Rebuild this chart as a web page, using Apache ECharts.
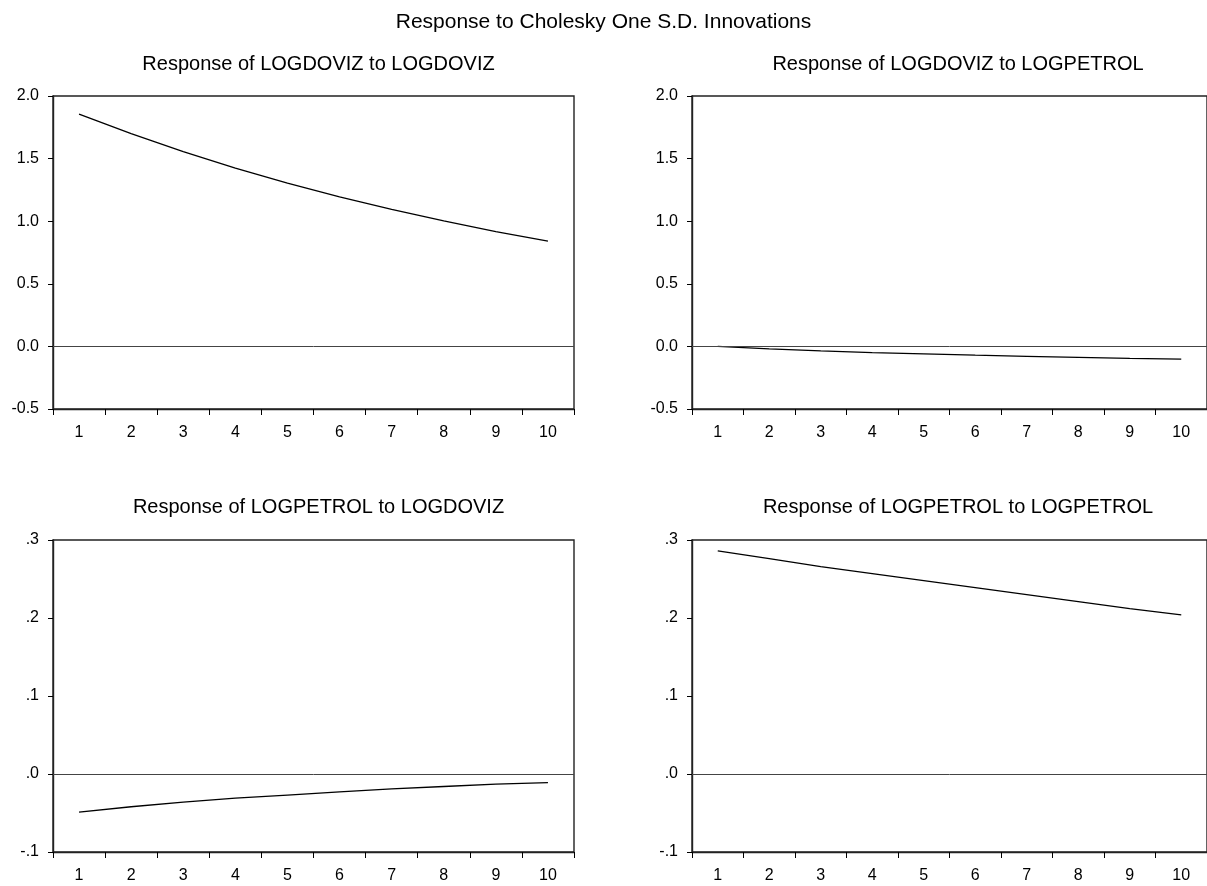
<!DOCTYPE html>
<html>
<head>
<meta charset="utf-8">
<script src="https://cdn.jsdelivr.net/npm/echarts@6/dist/echarts.min.js"></script>
<style>
html,body{margin:0;padding:0;background:#fff;}
#chart{width:1207px;height:886px;}
</style>
</head>
<body>
<div id="chart"></div>
<script>
// ---- data ----
const periods = ['1','2','3','4','5','6','7','8','9','10'];
const doviz_to_doviz   = [1.855, 1.699, 1.556, 1.424, 1.304, 1.194, 1.094, 1.002, 0.917, 0.840];
const doviz_to_petrol  = [0.000, -0.020, -0.035, -0.049, -0.060, -0.070, -0.079, -0.087, -0.095, -0.102];
const petrol_to_doviz  = [-0.049, -0.042, -0.036, -0.031, -0.027, -0.023, -0.019, -0.016, -0.013, -0.011];
const petrol_to_petrol = [0.286, 0.276, 0.266, 0.257, 0.248, 0.239, 0.230, 0.221, 0.212, 0.204];
const topTickLabels    = ['-0.5','0.0','0.5','1.0','1.5','2.0'];
const bottomTickLabels = ['-.1','.0','.1','.2','.3'];
const mainTitle = 'Response to Cholesky One S.D. Innovations';
const subTitles = ['Response of LOGDOVIZ to LOGDOVIZ','Response of LOGDOVIZ to LOGPETROL',
                   'Response of LOGPETROL to LOGDOVIZ','Response of LOGPETROL to LOGPETROL'];
const seriesList = [doviz_to_doviz, doviz_to_petrol, petrol_to_doviz, petrol_to_petrol];

// ---- layout ----
const FONT = 'Liberation Sans, Arial, sans-serif';
const grids = [
  {left:53, top:96, width:521, height:313},
  {left:692, top:96, width:522, height:313},
  {left:53, top:540, width:521, height:312},
  {left:692, top:540, width:522, height:312}
];
const yScales = [
  {min:-0.5, max:2.0, interval:0.5, labels:topTickLabels},
  {min:-0.5, max:2.0, interval:0.5, labels:topTickLabels},
  {min:-0.1, max:0.3, interval:0.1, labels:bottomTickLabels},
  {min:-0.1, max:0.3, interval:0.1, labels:bottomTickLabels}
];
const subTitleTops = [49, 49, 492, 492];

const option = {
  animation:false,
  backgroundColor:'#fff',
  title: [{
    text: mainTitle, left: 'center', top: 7,
    textStyle:{fontFamily:FONT, fontSize:21, fontWeight:'normal', color:'#000'}
  }].concat(subTitles.map((t,i)=>({
    text:t, left: grids[i].left + grids[i].width/2, top: subTitleTops[i], textAlign:'center',
    textStyle:{fontFamily:FONT, fontSize:20, fontWeight:'normal', color:'#000'}
  }))),
  grid: grids.map(g=>Object.assign({show:true, borderColor:'#222', borderWidth:1.4, backgroundColor:'transparent'}, g)),
  xAxis: grids.map((g,i)=>({
    type:'category', gridIndex:i, data:periods, boundaryGap:true,
    axisLine:{show:true, onZero:false, lineStyle:{color:'#222', width:1.4}},
    axisTick:{show:true, inside:false, length:6, lineStyle:{color:'#000'}},
    axisLabel:{color:'#000', fontFamily:FONT, fontSize:16, margin:16},
    splitLine:{show:false}
  })),
  yAxis: yScales.map((s,i)=>({
    type:'value', gridIndex:i, min:s.min, max:s.max, interval:s.interval,
    axisLine:{show:true, onZero:false, lineStyle:{color:'#222', width:1.4}},
    axisTick:{show:true, inside:false, length:5, lineStyle:{color:'#000'}},
    axisLabel:{color:'#000', fontFamily:FONT, fontSize:16, margin:14,
      formatter:function(v){ const k=Math.round((v - s.min)/s.interval); return s.labels[k]; }},
    splitLine:{show:false}
  })),
  series: seriesList.map((d,i)=>({
    type:'line', xAxisIndex:i, yAxisIndex:i, data:d, symbol:'none', smooth:false,
    lineStyle:{color:'#000', width:1.3},
    markLine:{silent:true, symbol:'none', label:{show:false},
      lineStyle:{color:'#444', width:1, type:'solid'}, data:[{yAxis:0}]}
  }))
};
echarts.init(document.getElementById('chart'), null, {renderer:'canvas'}).setOption(option);
</script>
</body>
</html>
